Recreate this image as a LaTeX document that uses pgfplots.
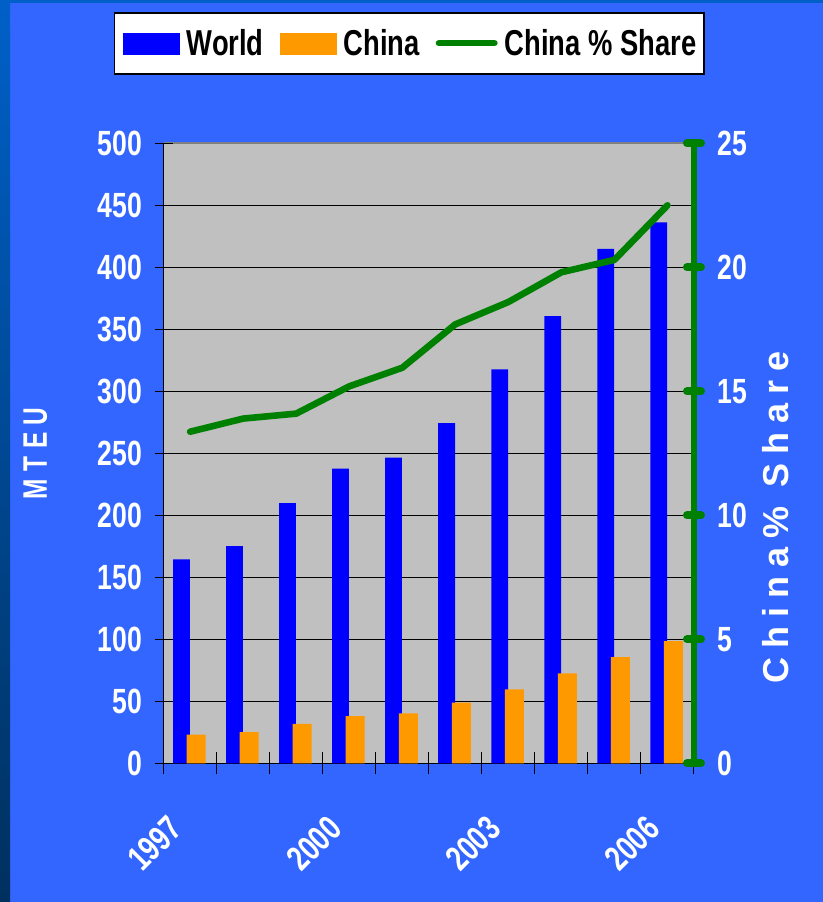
\documentclass[border=0pt]{standalone}
\usepackage{fontspec}
\setmainfont{Liberation Sans}
\newfontfamily\cf[FakeStretch=0.76]{Liberation Sans}
\newfontfamily\mteu[FakeStretch=0.72, LetterSpace=22]{Liberation Sans}
\newfontfamily\share[LetterSpace=25]{Liberation Sans}
\usepackage{pgfplots}
\pgfplotsset{compat=1.18}
\definecolor{bg}{HTML}{3366FF}
\definecolor{plotgray}{HTML}{C0C0C0}
\definecolor{wblue}{HTML}{0000FF}
\definecolor{corange}{HTML}{FF9900}
\definecolor{sgreen}{HTML}{008000}
\definecolor{bordergray}{HTML}{808080}
\definecolor{striptop}{HTML}{0060C8}
\definecolor{stripbot}{HTML}{00305E}
\begin{document}
\begin{tikzpicture}
\fill[bg] (0,0) rectangle (411.5pt,451pt);
\shade[top color=striptop, bottom color=stripbot] (0,0) rectangle (5pt,451pt);
\fill[striptop] (0,449.5pt) rectangle (411.5pt,451pt);
\begin{axis}[
  at={(81.8pt,69.35pt)}, anchor=south west,
  scale only axis, width=265.2pt, height=310pt,
  xmin=-0.5, xmax=9.5, ymin=0, ymax=500,
  ybar,
  axis background/.style={fill=plotgray},
  axis x line*=bottom, axis y line*=left,
  axis line style={black, line width=0.6pt, -},
  ytick={0,50,...,450},
  extra y ticks={500},
  extra y tick style={grid style={draw=bordergray, line width=1pt}},
  ymajorgrids, grid style={black, line width=0.5pt},
  tick align=center,
  major tick length=9pt,
  ytick style={black, line width=0.5pt},
  xtick={0,3,6,9}, xticklabels={1997,2000,2003,2006},
  major x tick style={draw=none},
  minor xtick={-0.5,0.5,...,9.5},
  minor tick length=11pt,
  minor x tick style={black, line width=0.5pt},
  /pgf/number format/assume math mode=true,
  tick label style={font=\cf\bfseries\fontsize{17.5pt}{20pt}\selectfont, text=white},
  yticklabel style={anchor=east, inner sep=0pt, xshift=-6pt},
  xticklabel style={inner sep=0pt, xshift=-7pt, yshift=-25pt, rotate=45, anchor=east},
  ylabel={MTEU},
  ylabel style={at={(axis description cs:-0.242,0.5)}, anchor=center, font=\mteu\bfseries\fontsize{17pt}{19pt}\selectfont, text=white},
  legend columns=3,
  legend style={at={(axis description cs:0.4636,1.2113)}, anchor=north,
    draw=black, line width=0.8pt, fill=white,
    inner xsep=4pt, inner ysep=8pt,
    font=\cf\bfseries\fontsize{18pt}{20pt}\selectfont, text=black,
    nodes={inner sep=0pt, anchor=base west},
    /tikz/every odd column/.append style={column sep=3.5pt},
    /tikz/every even column/.append style={column sep=8pt}},
]
\addplot[fill=wblue, draw=none, bar width=8.4pt, bar shift=-4.35pt,
  legend image code/.code={\fill[wblue, draw=none] (0pt,0pt) rectangle (28.5pt,11pt);}]
  coordinates {(0,164.5) (1,175.2) (2,209.9) (3,237.6) (4,246.5) (5,274.4) (6,317.7) (7,360.7) (8,414.8) (9,436.3)};
\addlegendentry{World}
\addplot[fill=corange, draw=none, bar width=9.5pt, bar shift=3pt,
  legend image code/.code={\fill[corange, draw=none] (0pt,0pt) rectangle (28.5pt,11pt);}]
  coordinates {(0,23.1) (1,25.2) (2,31.7) (3,38.1) (4,40.3) (5,48.9) (6,59.7) (7,72.6) (8,85.7) (9,98.6)};
\addlegendentry{China}
\addlegendimage{legend image code/.code={\path[draw=none, fill=none] (0pt,0pt) rectangle (31pt,11pt); \path[draw=sgreen, fill=none, line width=3.3pt, line cap=round] (1.65pt,6pt) -- (29.35pt,6pt);}}
\addlegendentry{China \% Share}
\end{axis}
\begin{axis}[
  at={(81.8pt,69.35pt)}, anchor=south west,
  scale only axis, width=265.2pt, height=310pt,
  xmin=-0.5, xmax=9.5, ymin=0, ymax=25,
  axis x line=none, axis y line*=right,
  y axis line style={draw=sgreen, line width=3pt, -},
  ytick={0,5,...,25},
  tick align=center, major tick length=7pt,
  ytick style={draw=sgreen, line width=4pt, line cap=round},
  /pgf/number format/assume math mode=true,
  yticklabel style={font=\cf\bfseries\fontsize{17.5pt}{20pt}\selectfont, text=white, anchor=west, inner sep=0pt, xshift=8pt},
  ylabel={China\% Share},
  ylabel style={at={(axis description cs:1.153,0.3965)}, anchor=center, font=\share\bfseries\fontsize{18pt}{20pt}\selectfont, text=white},
]
\addplot[sgreen, line width=3.3pt, line cap=round, line join=round, mark=none]
  coordinates {(0,13.37) (1,13.9) (2,14.1) (3,15.2) (4,15.95) (5,17.7) (6,18.6) (7,19.8) (8,20.3) (9,22.5)};
\end{axis}
\end{tikzpicture}
\end{document}
